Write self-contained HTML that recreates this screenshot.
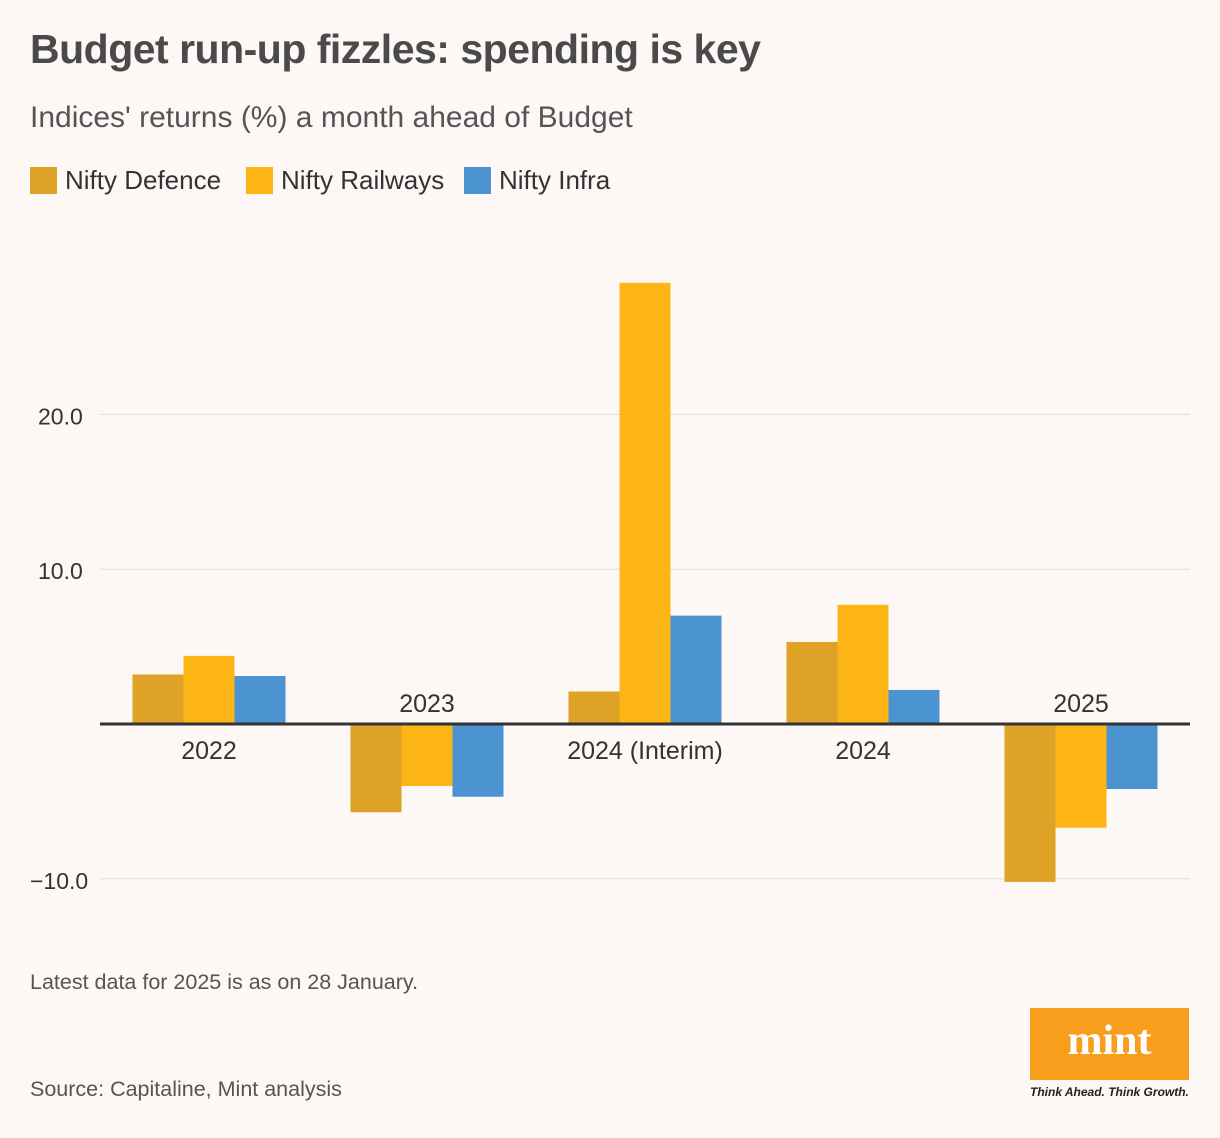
<!DOCTYPE html>
<html><head><meta charset="utf-8"><style>
body{margin:0;width:1220px;height:1138px;background:#fdf7f5;font-family:"Liberation Sans",sans-serif;position:relative;overflow:hidden;color:#333}
.t{position:absolute;left:30px;top:26px;font-size:41px;font-weight:bold;color:#4a4a4a;letter-spacing:-0.5px}
.s{position:absolute;left:30px;top:101px;font-size:30px;color:#555}
.lg{position:absolute;top:165px;font-size:26px;color:#333;display:flex;align-items:center}
.lg span{display:inline-block;width:27px;height:27px;margin-right:8px}
.n{position:absolute;left:30px;font-size:21.5px;color:#555}
</style></head><body>
<div class="t">Budget run-up fizzles: spending is key</div>
<div class="s">Indices' returns (%) a month ahead of Budget</div>
<div class="lg" style="left:30px"><span style="background:#dea227"></span>Nifty Defence</div>
<div class="lg" style="left:246px"><span style="background:#fdb516"></span>Nifty Railways</div>
<div class="lg" style="left:464px"><span style="background:#4b93d1"></span>Nifty Infra</div>
<svg id="c" width="1220" height="1138" style="position:absolute;left:0;top:0"></svg>
<div class="n" style="top:970px">Latest data for 2025 is as on 28 January.</div>
<div class="n" style="top:1077px">Source: Capitaline, Mint analysis</div>
<div style="position:absolute;left:1030px;top:1008px;width:159px;height:72px;background:#f99d1c;color:#fff;font-family:'Liberation Serif',serif;font-weight:bold;font-size:42px;text-align:center;line-height:66px">mint</div>
<div style="position:absolute;left:1030px;top:1085px;font-size:12px;font-style:italic;font-weight:bold;color:#222">Think Ahead. Think Growth.</div>
<script>
const categories=["2022","2023","2024 (Interim)","2024","2025"];
const defence=[3.2,-5.7,2.1,5.3,-10.2];
const railways=[4.4,-4.0,28.5,7.7,-6.7];
const infra=[3.1,-4.7,7.0,2.2,-4.2];
const ticks=[-10,10,20];
const tickLabels=["\u221210.0","10.0","20.0"];
const svg=document.getElementById('c');const NS='http://www.w3.org/2000/svg';
const y=v=>724-v*15.48;
const x0=100,x1=1190,gw=218;
const gx=i=>x0+gw*i+gw/2;
function mk(t,a){const e=document.createElementNS(NS,t);for(const k in a)e.setAttribute(k,a[k]);svg.appendChild(e);return e;}
ticks.forEach((t,i)=>{
 const l=mk('line',{x1:x0,x2:x1,y1:y(t),y2:y(t),stroke:'#ddd','stroke-width':1});
 
 
 const tx=mk('text',{x:t<0?30:38,y:y(t)+10,'font-size':23,fill:'#333','font-family':'Liberation Sans, sans-serif'});
 tx.textContent=tickLabels[i];
 
 
});
const series=[[defence,'#dea227','defence'],[railways,'#fdb516','railways'],[infra,'#4b93d1','infra']];
const bw=51;
categories.forEach((c,i)=>{
 series.forEach((s,j)=>{
  const v=s[0][i];const bx=gx(i)-bw*1.5+j*bw;
  const r=mk('rect',{x:bx,y:Math.min(y(v),y(0)),width:bw,height:Math.abs(y(v)-y(0)),fill:s[1]});
  
  
 });
 const neg=defence[i]<0;
 const tx=mk('text',{x:gx(i),y:neg?712:759,'text-anchor':'middle','font-size':25,fill:'#333','font-family':'Liberation Sans, sans-serif'});
 tx.textContent=c;
 
 
});
const ax=mk('line',{x1:x0,x2:x1,y1:y(0),y2:y(0),stroke:'#333','stroke-width':3});


</script>
</body></html>
